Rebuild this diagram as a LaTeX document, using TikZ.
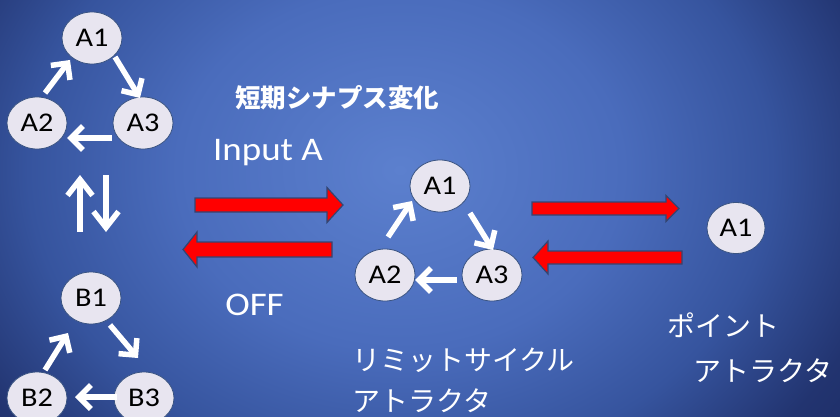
\documentclass[tikz,border=0pt]{standalone}
\usepackage{fontspec}
\usepackage{graphicx}
\setmainfont{Carlito}
\newfontfamily\jp{Noto Sans CJK JP}
\usetikzlibrary{shapes.geometric,arrows.meta,calc}
\definecolor{bgA}{RGB}{92,128,206}
\definecolor{bgB}{RGB}{74,108,188}
\definecolor{bgC}{RGB}{54,84,158}
\definecolor{bgD}{RGB}{34,52,112}
\definecolor{bgE}{RGB}{26,40,95}
\definecolor{ndfill}{RGB}{232,229,240}
\definecolor{ndline}{RGB}{58,84,130}
\definecolor{redline}{RGB}{50,70,115}
\pgfdeclareradialshading{bgsh}{\pgfpoint{0bp}{0bp}}{color(0bp)=(bgA); color(9bp)=(bgB); color(15bp)=(bgC); color(20bp)=(bgD); color(25bp)=(bgE); color(50bp)=(bgE)}
\newcommand{\hs}[1]{\scalebox{1.12}[1]{#1}}
\newcommand{\redarrow}[7]{% tail tip cy bodyhalf headhalf headbase
  \draw[redarr] (#1,#3-#4) -- (#6,#3-#4) -- (#6,#3-#5) -- (#2,#3) -- (#6,#3+#5) -- (#6,#3+#4) -- (#1,#3+#4) -- cycle;}
\tikzset{
  nd/.style={ellipse, draw=ndline, line width=0.8pt, fill=ndfill, minimum width=60pt, minimum height=52pt, inner sep=0pt, text=black, font=\fontsize{27}{27}\selectfont},
  warr/.style={white, line width=5.5pt, -{Straight Barb[length=12pt,width=24pt]}},
  warrbig/.style={white, line width=5.5pt, -{Straight Barb[length=16pt,width=25pt]}},
  redarr/.style={fill=red, draw=redline, line width=1.2pt, line join=miter},
  lbl/.style={text=white, inner sep=0pt},
  jplbl/.style={text=white, inner sep=0pt, anchor=base west, font=\jp\fontsize{28}{28}\selectfont},
}
\begin{document}
\begin{tikzpicture}[x=1pt,y=-1pt]
\useasboundingbox (0,0) rectangle (840,417);
\clip (0,0) rectangle (840,417);
\fill[bgE] (0,0) rectangle (840,417);
\shade[shading=bgsh] (400,170) ellipse [x radius=620pt, y radius=500pt];

% top-left cycle
\node[nd] (a1) at (92,38) {\hs{A1}};
\node[nd] (a2) at (37,123) {\hs{A2}};
\node[nd] (a3) at (143,123) {\hs{A3}};
\draw[warr] ($(a2)+(8,-30)$) -- ($(a1)+(-22,22)$);
\draw[warr] ($(a1)+(23,19)$) -- ($(a3)+(-3,-25)$);
\draw[warr] ($(a3)+(-31,15)$) -- ($(a2)+(30,15)$);

% up / down
\coordinate (u0) at (80,232);
\coordinate (u1) at (80,175);
\coordinate (d0) at (106,175);
\coordinate (d1) at (106,232);
\draw[warrbig] (u0) -- (u1);
\draw[warrbig] (d0) -- (d1);

% bottom-left cycle
\node[nd] (b1) at (91,298) {\hs{B1}};
\node[nd] (b2) at (37,398) {\hs{B2}};
\node[nd] (b3) at (144,398) {\hs{B3}};
\draw[warr] ($(b2)+(8,-28)$) -- ($(b1)+(-23,35)$);
\draw[warr] ($(b1)+(19,27)$) -- ($(b3)+(-6,-40)$);
\draw[warr] ($(b3)+(-27,-1)$) -- ($(b2)+(38,-1)$);

% middle cycle
\node[nd] (m1) at (440,186) {\hs{A1}};
\node[nd] (m2) at (385,275) {\hs{A2}};
\node[nd] (m3) at (492,275) {\hs{A3}};
\draw[warr] ($(m2)+(3,-38)$) -- ($(m1)+(-28,15)$);
\draw[warr] ($(m1)+(30,27)$) -- ($(m3)+(1,-25)$);
\draw[warr] ($(m3)+(-35,5)$) -- ($(m2)+(30,5)$);

% point attractor
\node[nd, minimum width=58pt, minimum height=51pt] (p1) at (736,228) {\hs{A1}};

% red arrows
\redarrow{195}{343}{205}{7}{17.5}{327}{}
\redarrow{332}{183}{249.5}{7.5}{17.5}{197}{}
\redarrow{532}{679}{208.5}{6.5}{13}{666}{}
\redarrow{682}{533}{257.5}{6.5}{16.5}{548}{}

% labels
\node[lbl, font=\jp\bfseries\fontsize{25.5}{26}\selectfont] (t1) at (337,98) {短期シナプス変化};
\node[lbl, anchor=base, font=\fontsize{33}{33}\selectfont] (inA) at (268,160) {\hs{Input A}};
\node[lbl, anchor=base, font=\fontsize{33}{33}\selectfont] (off) at (254.5,315) {\hs{OFF}};
\node[jplbl] (lc1) at (352,370) {リミットサイクル};
\node[jplbl] (lc2) at (352,411) {アトラクタ};
\node[jplbl] (pa1) at (667,336) {ポイント};
\node[jplbl] (pa2) at (693,381) {アトラクタ};
\end{tikzpicture}
\end{document}
